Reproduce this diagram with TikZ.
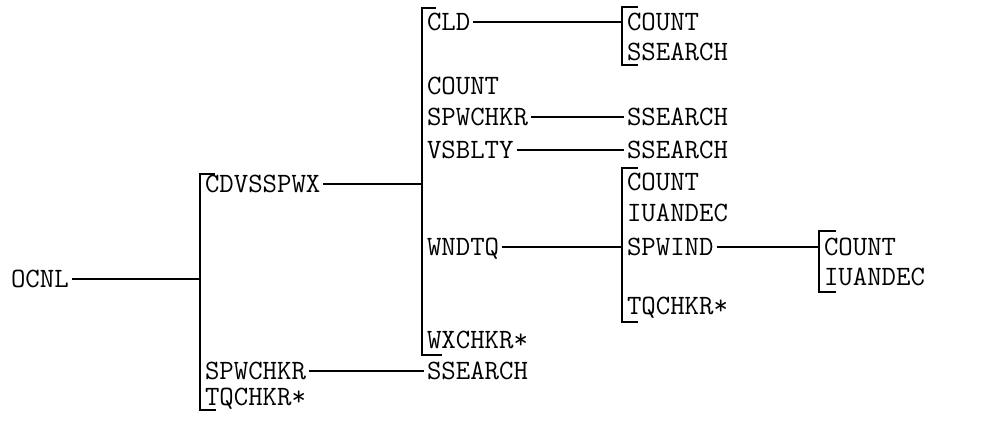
\documentclass[tikz,border=0pt]{standalone}
\begin{document}
\begin{tikzpicture}[x=1pt,y=-1pt,
  lbl/.style={anchor=west,inner sep=0pt,outer xsep=3pt,text height=17pt,text depth=0pt,
    font=\fontsize{28}{32}\selectfont\ttfamily},
  conn/.style={line width=2pt},
  brk/.style={line width=2pt}]
\useasboundingbox (0,0) rectangle (991,421);
% column 0
\node[lbl] (ocnl) at (8,279) {OCNL};
% column 1
\node[lbl] (cdv) at (202,184) {CDVSSPWX};
\node[lbl] (spw1) at (202,371) {SPWCHKR};
\node[lbl] (tq1) at (202,397) {TQCHKR*};
% column 2
\node[lbl] (cld) at (424,22) {CLD};
\node[lbl] (cnt1) at (424,86) {COUNT};
\node[lbl] (spw2) at (424,117) {SPWCHKR};
\node[lbl] (vsb) at (424,150) {VSBLTY};
\node[lbl] (wnd) at (424,247) {WNDTQ};
\node[lbl] (wx) at (424,340) {WXCHKR*};
\node[lbl] (ss1) at (424,371) {SSEARCH};
% column 3
\node[lbl] (cnt2) at (624,22) {COUNT};
\node[lbl] (ss2) at (624,52) {SSEARCH};
\node[lbl] (ss3) at (624,117) {SSEARCH};
\node[lbl] (ss4) at (624,150) {SSEARCH};
\node[lbl] (cnt3) at (624,182) {COUNT};
\node[lbl] (iu1) at (624,213) {IUANDEC};
\node[lbl] (spwind) at (624,247) {SPWIND};
\node[lbl] (tq2) at (624,306) {TQCHKR*};
% column 4
\node[lbl] (cnt4) at (821,247) {COUNT};
\node[lbl] (iu2) at (821,277) {IUANDEC};
% junction points on bracket spines
\coordinate (j1) at (200,279);
\coordinate (j2) at (422,184);
\coordinate (j3) at (622,22);
\coordinate (j4) at (622,247);
\coordinate (j5) at (819,247);
% brackets
\draw[brk] (215,174) -- (200,174) -- (200,410) -- (216,410);
\draw[brk] (436,8) -- (422,8) -- (422,355) -- (442,355);
\draw[brk] (638,7) -- (622,7) -- (622,65) -- (638,65);
\draw[brk] (638,168) -- (622,168) -- (622,322) -- (638,322);
\draw[brk] (836,231) -- (819,231) -- (819,292) -- (836,292);
% connectors
\draw[conn] (ocnl.east) -- (j1);
\draw[conn] (cdv.east) -- (j2);
\draw[conn] (spw1.east) -- (ss1.west);
\draw[conn] (cld.east) -- (j3);
\draw[conn] (spw2.east) -- (ss3.west);
\draw[conn] (vsb.east) -- (ss4.west);
\draw[conn] (wnd.east) -- (j4);
\draw[conn] (spwind.east) -- (j5);
\end{tikzpicture}
\end{document}
